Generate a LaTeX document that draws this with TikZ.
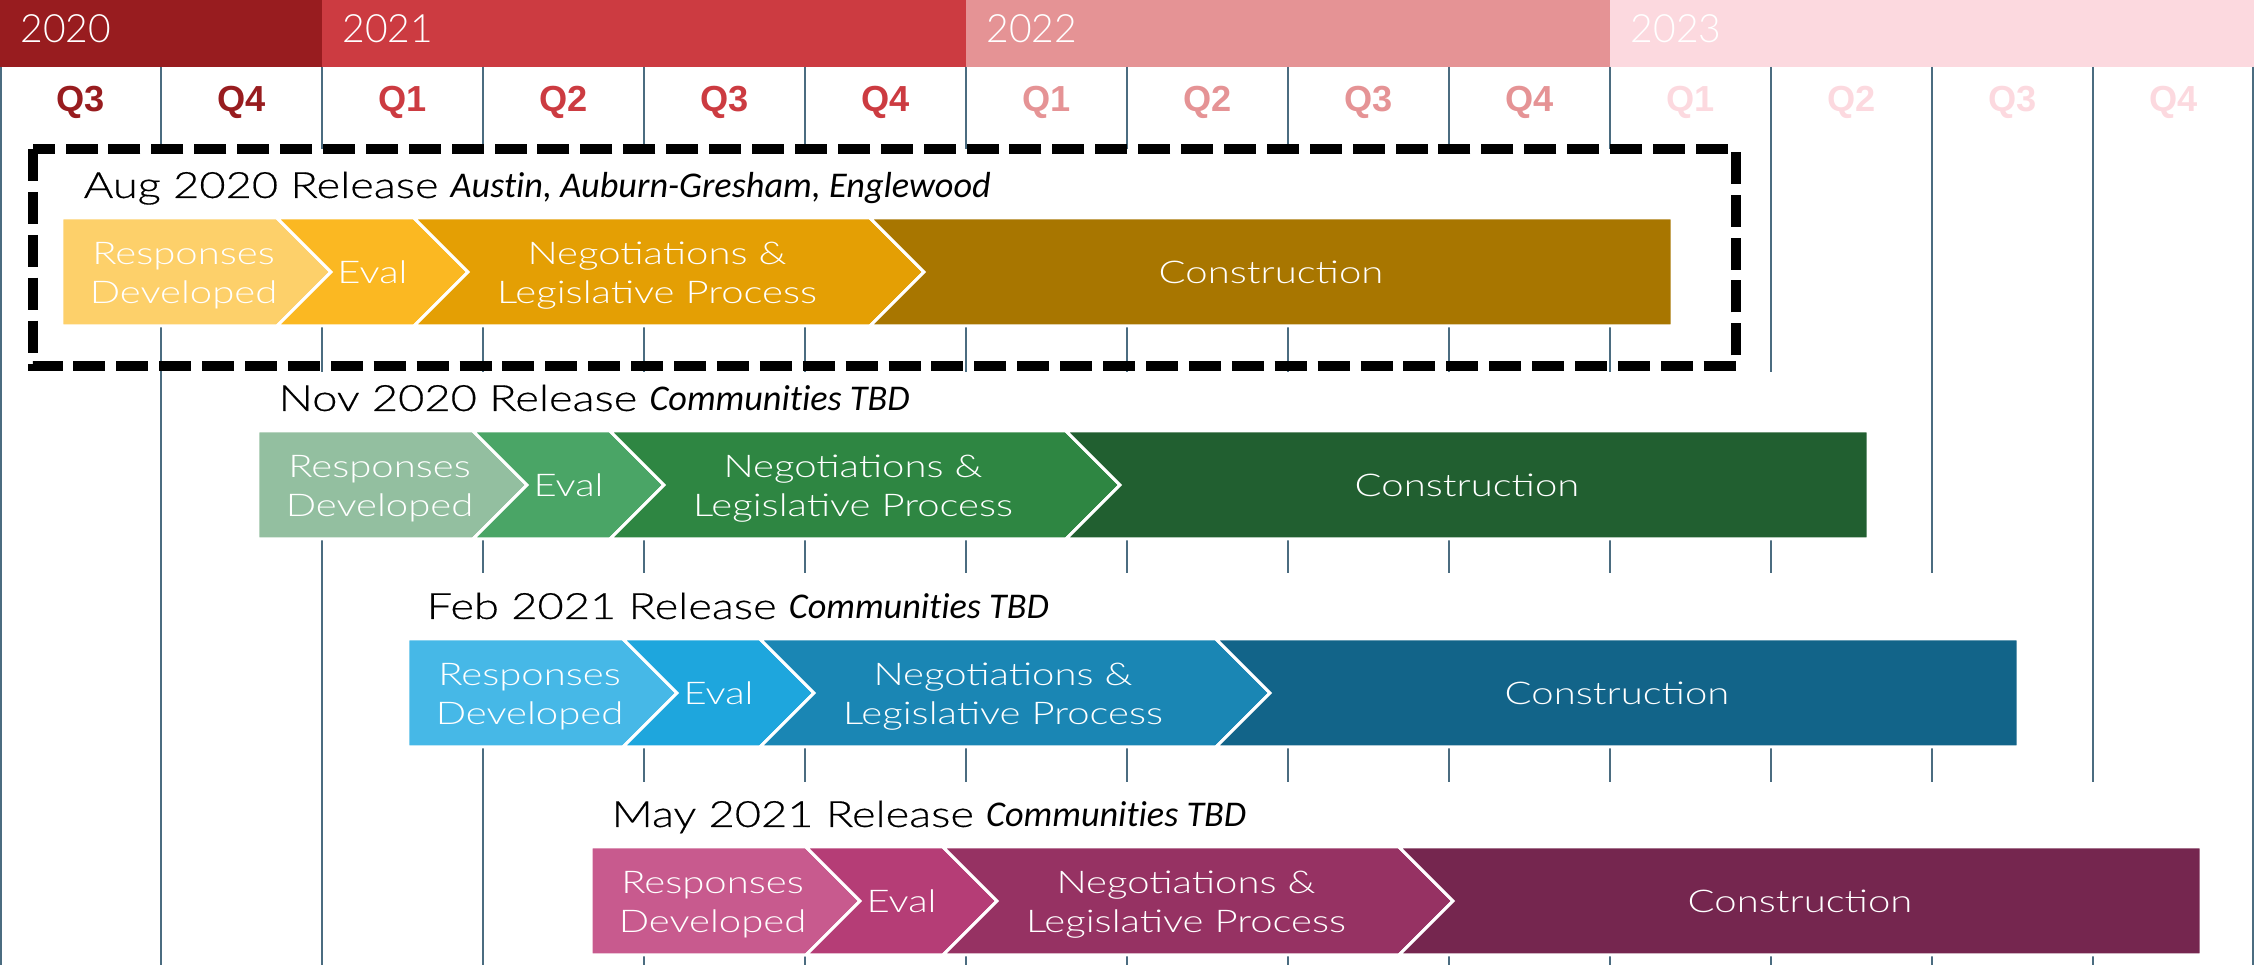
\documentclass[tikz,border=0pt]{standalone}
\usepackage{fontspec}
\setmainfont{Lato}
\newfontfamily\headfont{Lato Light}[FakeStretch=1.25,FakeBold=0.45]
\newfontfamily\phasefont{Lato Light}[FakeStretch=1.28]
\newfontfamily\yearfont{Lato Light}
\newfontfamily\townfont{Carlito}[Ligatures=NoCommon]
\newfontfamily\qfont{Liberation Sans}
\usepackage{tikz}
\usetikzlibrary{positioning}

\definecolor{yrA}{HTML}{981C1F}
\definecolor{yrB}{HTML}{CC3B41}
\definecolor{yrC}{HTML}{E59395}
\definecolor{yrD}{HTML}{FCD9DF}
\definecolor{gridline}{RGB}{75,108,128}
\definecolor{goldA}{HTML}{FDD06A}
\definecolor{goldB}{HTML}{FBB822}
\definecolor{goldC}{HTML}{E49F04}
\definecolor{goldD}{HTML}{A87600}
\definecolor{greenA}{HTML}{93BFA0}
\definecolor{greenB}{HTML}{4AA566}
\definecolor{greenC}{HTML}{2E8642}
\definecolor{greenD}{HTML}{215F30}
\definecolor{blueA}{HTML}{46B8E7}
\definecolor{blueB}{HTML}{1EA6DD}
\definecolor{blueC}{HTML}{1A86B4}
\definecolor{blueD}{HTML}{126489}
\definecolor{plumA}{HTML}{C85A8E}
\definecolor{plumB}{HTML}{B53D76}
\definecolor{plumC}{HTML}{963263}
\definecolor{plumD}{HTML}{75264F}

\newcommand{\townname}[1]{{\townfont\itshape #1}}

% one release: name, left x, top y, colour prefix
\newcommand{\releasebar}[4]{%
  \pgfmathsetmacro\xa{#2}\pgfmathsetmacro\xb{#2+215}%
  \pgfmathsetmacro\xc{#2+352}\pgfmathsetmacro\xd{#2+808}%
  \pgfmathsetmacro\xe{#2+1610}%
  \pgfmathsetmacro\ym{#3+54}\pgfmathsetmacro\yb{#3+108}%
  \filldraw[chev,fill=#4A] (\xa,#3) -- (\xb,#3) -- (\xb+54,\ym) -- (\xb,\yb) -- (\xa,\yb) -- cycle;
  \filldraw[chev,fill=#4B] (\xb,#3) -- (\xc,#3) -- (\xc+54,\ym) -- (\xc,\yb) -- (\xb,\yb) -- (\xb+54,\ym) -- cycle;
  \filldraw[chev,fill=#4C] (\xc,#3) -- (\xd,#3) -- (\xd+54,\ym) -- (\xd,\yb) -- (\xc,\yb) -- (\xc+54,\ym) -- cycle;
  \filldraw[chev,fill=#4D] (\xd,#3) -- (\xe,#3) -- (\xe,\yb) -- (\xd,\yb) -- (\xd+54,\ym) -- cycle;
  \node[phase] (#1-resp) at ({(\xa+\xb)/2+14},\ym+4) {Responses\\Developed};
  \node[phase] (#1-eval) at ({(\xb+\xc)/2+27},\ym) {Eval};
  \node[phase] (#1-nego) at ({(\xc+\xd)/2+15},\ym+4) {Negotiations \&\\Legislative Process};
  \node[phase] (#1-cons) at ({(\xd+\xe)/2},\ym) {Construction};
}

\begin{document}
\begin{tikzpicture}[x=0.01cm,y=-0.01cm,
    grid/.style={gridline,line width=0.45pt},
    chev/.style={draw=white,line width=0.85pt},
    phase/.style={text=white,align=center,inner sep=0pt,
      font=\phasefont\fontsize{8.9}{11.1}\selectfont},
    rowlabel/.style={anchor=base west,inner sep=0pt,
      font=\headfont\fontsize{10.3}{12}\selectfont},
    year/.style={anchor=base west,inner sep=0pt,text=white,
      font=\yearfont\fontsize{11.1}{13}\selectfont},
    qlab/.style={anchor=base,inner sep=0pt,
      font=\qfont\bfseries\fontsize{10.3}{12}\selectfont},
    focus/.style={line width=2.85pt,dash pattern=on 9.1pt off 3.1pt}]

    \useasboundingbox (0,0) rectangle (2254,965);

    % years
    \foreach \x/\w/\yr/\c in {0/322/2020/yrA,322/644/2021/yrB,966/644/2022/yrC,1610/644/2023/yrD}{
      \fill[\c] (\x,0) rectangle ++(\w,67);
      \node[year] (y\yr) at (\x+20,43) {\yr};
    }

    % quarters
    \foreach \x in {1,161,322,483,644,805,966,1127,1288,1449,1610,1771,1932,2093,2253}
      \draw[grid] (\x,67) -- (\x,965);
    \foreach \q/\c [count=\i from 0] in {Q3/yrA,Q4/yrA,Q1/yrB,Q2/yrB,Q3/yrB,Q4/yrB,
        Q1/yrC,Q2/yrC,Q3/yrC,Q4/yrC,Q1/yrD,Q2/yrD,Q3/yrD,Q4/yrD}
      \node[qlab,text=\c] (q\i) at (161*\i+80.5,112) {\q};

    % blank strips behind the release titles
    \fill[white] (33,149) rectangle (1736,218);
    \fill[white] (258,372) rectangle (1868,431);
    \fill[white] (408,573) rectangle (2018,639);
    \fill[white] (591,782) rectangle (2201,847);

    \draw[focus] (33,149) rectangle (1736,366);

    \releasebar{aug}{62}{218}{gold}
    \releasebar{nov}{258}{431}{green}
    \releasebar{feb}{408}{639}{blue}
    \releasebar{may}{591}{847}{plum}

    \node[rowlabel] (aug) at (83,198) {Aug 2020 Release \townname{Austin, Auburn-Gresham, Englewood}};
    \node[rowlabel] (nov) at (278,411) {Nov 2020 Release \townname{Communities TBD}};
    \node[rowlabel] (feb) at (426,619) {Feb 2021 Release \townname{Communities TBD}};
    \node[rowlabel] (may) at (611,827) {May 2021 Release \townname{Communities TBD}};
\end{tikzpicture}
\end{document}
